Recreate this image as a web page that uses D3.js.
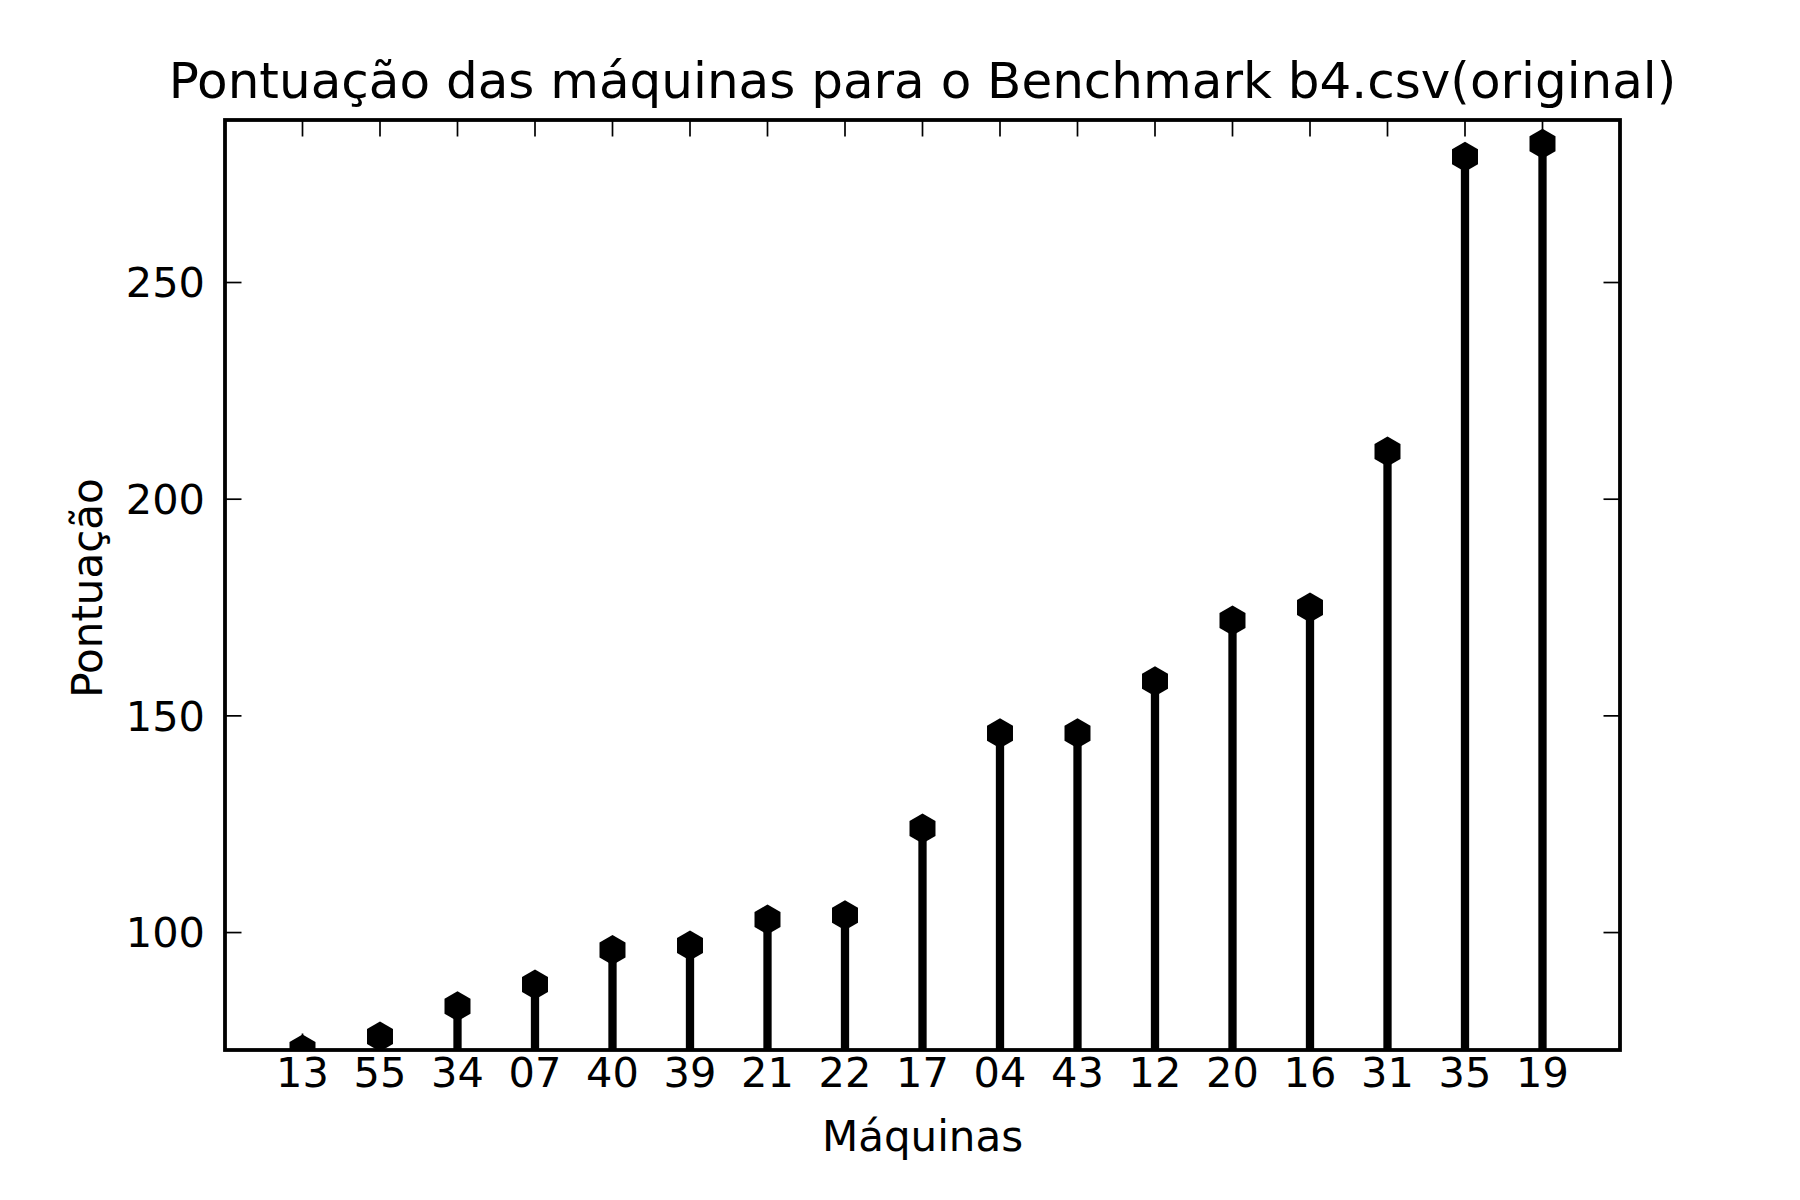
<!DOCTYPE html>
<html>
<head>
<meta charset="utf-8">
<script src="https://cdn.jsdelivr.net/npm/d3@7"></script>
<style>
  body { margin: 0; background: #fff; }
  text { font-family: "DejaVu Sans", sans-serif; fill: #000; }
</style>
</head>
<body>
<svg id="chart"></svg>
<script>
// machines, sorted by score
const machines = ["13", "55", "34", "07", "40", "39", "21", "22", "17", "04", "43", "12", "20", "16", "31", "35", "19"];
const scores = [73, 76, 83, 88, 96, 97, 103, 104, 124, 146, 146, 158, 172, 175, 211, 279, 282];
const yTicks = [100, 150, 200, 250];

const W = 1800, H = 1200;
const margin = { top: 120, right: 180, bottom: 150, left: 225 };
const w = W - margin.left - margin.right,
      h = H - margin.top - margin.bottom;

const svg = d3.select("#chart").attr("width", W).attr("height", H);

const x = d3.scaleLinear().domain([-1, machines.length]).range([0, w]);
const y = d3.scaleLinear().domain([72.9, 287.5]).range([h, 0]);

const g = svg.append("g").attr("transform", `translate(${margin.left},${margin.top})`);

g.append("clipPath").attr("id", "clip")
  .append("rect").attr("width", w).attr("height", h);

const plot = g.append("g").attr("clip-path", "url(#clip)");

// stems
plot.selectAll(".stem")
  .data(scores)
  .join("line")
  .attr("class", "stem")
  .attr("x1", (d, i) => x(i)).attr("x2", (d, i) => x(i))
  .attr("y1", y(y.domain()[0]) + 10)
  .attr("y2", d => y(d))
  .attr("stroke", "#000")
  .attr("stroke-width", 8.3);

// hexagon markers (pointy top)
const R = 15;
const hex = d3.line()(d3.range(6).map(k => {
  const a = -Math.PI / 2 + k * Math.PI / 3;
  return [R * Math.cos(a), R * Math.sin(a)];
})) + "Z";

plot.selectAll(".marker")
  .data(scores)
  .join("path")
  .attr("class", "marker")
  .attr("d", hex)
  .attr("transform", (d, i) => `translate(${x(i)},${y(d)})`)
  .attr("fill", "#000");

// ticks (inward, on all four sides)
const tickLen = 16.5;
const xt = g.append("g");
machines.forEach((m, i) => {
  xt.append("line").attr("x1", x(i)).attr("x2", x(i)).attr("y1", 0).attr("y2", tickLen);
  xt.append("line").attr("x1", x(i)).attr("x2", x(i)).attr("y1", h).attr("y2", h - tickLen);
});
yTicks.forEach(t => {
  xt.append("line").attr("x1", 0).attr("x2", tickLen).attr("y1", y(t)).attr("y2", y(t));
  xt.append("line").attr("x1", w).attr("x2", w - tickLen).attr("y1", y(t)).attr("y2", y(t));
});
xt.selectAll("line").attr("stroke", "#000").attr("stroke-width", 1.7);

// tick labels
g.selectAll(".xlab")
  .data(machines)
  .join("text")
  .attr("class", "xlab")
  .attr("x", (d, i) => x(i))
  .attr("y", h + 37)
  .attr("text-anchor", "middle")
  .style("font-size", "41.5px")
  .text(d => d);

g.selectAll(".ylab")
  .data(yTicks)
  .join("text")
  .attr("class", "ylab")
  .attr("x", -20)
  .attr("y", d => y(d))
  .attr("dy", "0.36em")
  .attr("text-anchor", "end")
  .style("font-size", "41.5px")
  .text(d => d);

// frame
g.append("rect")
  .attr("width", w).attr("height", h)
  .attr("fill", "none")
  .attr("stroke", "#000")
  .attr("stroke-width", 3.8);

// titles
svg.append("text")
  .attr("x", margin.left + w / 2).attr("y", 98)
  .attr("text-anchor", "middle")
  .style("font-size", "50px")
  .text("Pontuação das máquinas para o Benchmark b4.csv(original)");

svg.append("text")
  .attr("x", margin.left + w / 2).attr("y", 1151)
  .attr("text-anchor", "middle")
  .style("font-size", "42px")
  .text("Máquinas");

svg.append("text")
  .attr("transform", `translate(102,${margin.top + h / 2 + 3}) rotate(-90)`)
  .attr("text-anchor", "middle")
  .style("font-size", "42px")
  .text("Pontuação");
</script>
</body>
</html>
